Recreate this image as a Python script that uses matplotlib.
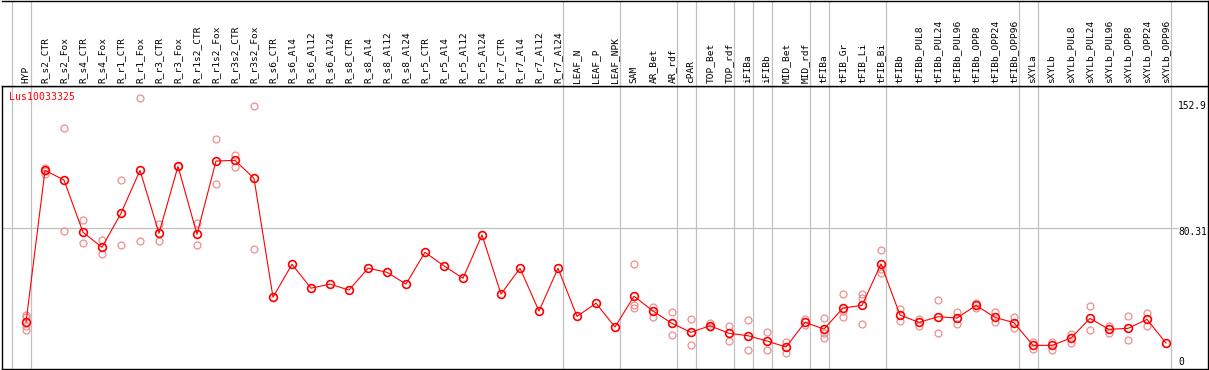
import matplotlib
matplotlib.use("Agg")
import matplotlib.pyplot as plt

# ---------------- data ----------------
categories = [
    "HYP", "R_s2_CTR", "R_s2_Fox", "R_s4_CTR", "R_s4_Fox", "R_r1_CTR", "R_r1_Fox",
    "R_r3_CTR", "R_r3_Fox", "R_r1s2_CTR", "R_r1s2_Fox", "R_r3s2_CTR", "R_r3s2_Fox",
    "R_s6_CTR", "R_s6_Al4", "R_s6_Al12", "R_s6_Al24", "R_s8_CTR", "R_s8_Al4",
    "R_s8_Al12", "R_s8_Al24", "R_r5_CTR", "R_r5_Al4", "R_r5_Al12", "R_r5_Al24",
    "R_r7_CTR", "R_r7_Al4", "R_r7_Al12", "R_r7_Al24", "LEAF_N", "LEAF_P", "LEAF_NPK",
    "SAM", "AR_Bet", "AR_rdf", "cPAR", "TOP_Bet", "TOP_rdf", "iFIBa", "iFIBb",
    "MID_Bet", "MID_rdf", "tFIBa", "tFIB_Gr", "tFIB_Li", "tFIB_Bi", "tFIBb",
    "tFIBb_PUL8", "tFIBb_PUL24", "tFIBb_PUL96", "tFIBb_OPP8", "tFIBb_OPP24",
    "tFIBb_OPP96", "sXYLa", "sXYLb", "sXYLb_PUL8", "sXYLb_PUL24", "sXYLb_PUL96",
    "sXYLb_OPP8", "sXYLb_OPP24", "sXYLb_OPP96",
]

means = [
    23.8, 115.1, 109.3, 77.9, 68.9, 89.3, 115.1, 77.3, 117.5, 76.7, 120.7, 121.1, 110.3,
    38.9, 58.7, 44.3, 46.8, 43.2, 56.3, 53.9, 46.8, 65.9, 57.7, 50.3, 76.3,
    40.8, 56.3, 30.6, 56.3, 27.4, 35.3, 21.0,
    39.5, 30.6, 23.2, 17.8, 21.8, 17.2, 15.8, 12.6, 9.0, 23.8, 19.8, 32.4, 34.0, 58.9,
    28.2, 23.8, 27.2, 26.4, 34.0, 26.8, 23.6,
    10.0, 10.0, 14.4, 26.2, 19.6, 20.2, 25.6, 11.4,
]

replicates = [
    [28.2, 26.8, 21.5, 19.2], [116.3, 114.9, 112.9], [140.4, 78.5], [85.1, 71.3],
    [73.3, 64.9], [109.3, 70.3], [158.6, 72.5], [82.7, 72.5], [117.5],
    [83.3, 70.3], [133.7, 106.7], [124.3, 117.3], [153.6, 67.7],
    [], [], [], [], [], [], [], [], [], [], [], [], [], [], [], [], [], [], [],
    [58.9, 34.2, 32.6], [33.2, 27.2], [30.0, 16.0], [25.6, 10.0], [23.6, 21.0],
    [21.6, 12.6], [25.2, 7.0], [17.8, 7.0], [12.0, 5.6], [25.8, 22.2],
    [26.4, 17.2, 14.6], [40.7, 30.5, 26.8], [41.0, 38.6, 22.6], [67.1, 56.0, 53.6],
    [31.6, 24.8], [25.6, 21.6], [37.1, 17.2], [29.8, 23.0], [35.3, 32.2],
    [29.8, 23.8], [27.2, 20.4],
    [12.0, 8.0], [12.0, 7.2], [16.8, 11.6], [33.4, 19.0], [21.8, 17.2],
    [27.4, 13.0], [29.4, 21.4], [],
]

group_ends = [-1, 0, 28, 31, 34, 35, 37, 38, 39, 41, 42, 45, 52, 53, 60]
gene_id = "Lus10033325"
ytick_values = [152.9, 80.31, 0]
ytick_labels = ["152.9", "80.31", "0"]

# ---------------- layout helpers ----------------
W, H = 1209, 370
fig = plt.figure(figsize=(W / 100, H / 100), dpi=100)


def rect(x0, y0, x1, y1):
    return [x0 / W, 1 - y1 / H, (x1 - x0) / W, (y1 - y0) / H]


X0, DX = 26.0, 19.0          # pixel of first category, spacing
Y0, KY = 362.0, 1.665        # pixel of value 0, pixels per unit
left_px, right_px = 1.5, 1207.5
top_px, mid_px, bot_px = 0.5, 85.5, 368.5

xlim = ((left_px - X0) / DX, (right_px - X0) / DX)

ax = fig.add_axes(rect(left_px, mid_px, right_px, bot_px))
hd = fig.add_axes(rect(left_px, top_px, right_px, mid_px))

ax.set_xlim(*xlim)
ax.set_ylim((Y0 - bot_px) / KY, (Y0 - mid_px) / KY)
hd.set_xlim(*xlim)
hd.set_ylim(0, 1)

for a in (ax, hd):
    a.set_xticks([])
    a.set_yticks([])
    for s in a.spines.values():
        s.set_color("black")
        s.set_linewidth(1.0)
hd.spines["left"].set_visible(False)

grid_c = "#c0c0c0"
for g in group_ends:
    for a in (ax, hd):
        a.axvline(g + 0.237, color=grid_c, lw=0.9, zorder=1)

ax.hlines(80.31, xlim[0], (1178 - X0) / DX, color=grid_c, lw=0.9, zorder=1)

# ---------------- markers ----------------
xs = list(range(len(categories)))
rx, ry = [], []
for i, reps in enumerate(replicates):
    for v in reps:
        rx.append(i)
        ry.append(v)

ax.plot(rx, ry, linestyle="none", marker="o", markersize=5.0, mfc="none",
        mec="#ee8e8e", mew=0.9, zorder=2)
ax.plot(xs, means, color="#ff0000", lw=0.8, zorder=3)
ax.plot(xs, means, linestyle="none", marker="o", markersize=5.6, mfc="none",
        mec="#ff0000", mew=1.2, zorder=4)

# ---------------- text ----------------
mono = "DejaVu Sans Mono"
for i, c in enumerate(categories):
    fig.text((X0 + DX * i) / W, 1 - 83.0 / H, c, rotation=90, ha="center", va="bottom",
             fontsize=6.8, family=mono, color="black")

fig.text(9.3 / W, 1 - 96.7 / H, gene_id, ha="left", va="center", fontsize=7.1,
         family=mono, color="#ff0000")

label_pix = [105.7, 231.7, 361.7]
for v, lab, py in zip(ytick_values, ytick_labels, label_pix):
    fig.text(1178.3 / W, 1 - py / H, lab, ha="left", va="center", fontsize=6.9,
             family=mono, color="black")

fig.savefig("out.png", dpi=100, facecolor="white")
